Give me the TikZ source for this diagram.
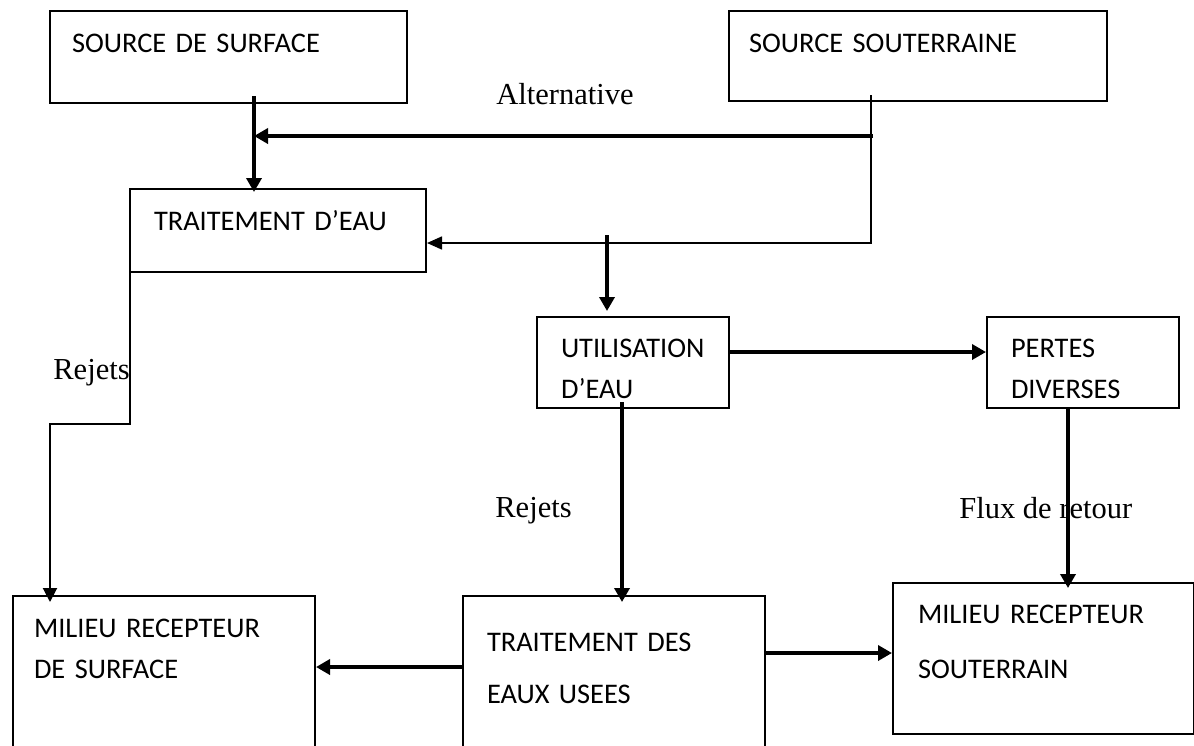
\documentclass[tikz,border=0pt]{standalone}
\usepackage{fontspec}
\setmainfont{Liberation Serif}
\newfontfamily\carlito{Carlito}
\usetikzlibrary{arrows.meta}
\hyphenpenalty=10000
\tikzset{
  box/.style={draw, line width=1pt, anchor=north west, align=left, inner ysep=0pt,
    font=\carlito\fontsize{14.2}{20.5}\selectfont},
  boxdim/.style n args={4}{text width=#1, inner xsep=#2, text height=#3, text depth=#4},
  flow/.style={line width=1.9pt, -{Triangle[length=7pt,width=7.5pt]}},
  feed/.style={line width=0.8pt, -{Triangle[length=7.5pt,width=6.5pt]}},
  drop/.style={line width=1pt, -{Triangle[length=7pt,width=7pt]}},
  tag/.style={anchor=base west, inner sep=0pt, font=\fontsize{15.25}{18}\selectfont},
}
\begin{document}
\begin{tikzpicture}[x=0.5pt,y=-0.5pt]
  \useasboundingbox (0,0) rectangle (1194,745);
  \clip (0,0) rectangle (1194,745);
  % boxes
  \node[box, boxdim={156.5pt}{11pt}{20.5pt}{25.5pt}] (ssurf) at (49,10) {SOURCE DE SURFACE};
  \node[box, boxdim={169pt}{10pt}{20.5pt}{24.5pt}] (ssout) at (728,10) {SOURCE SOUTERRAINE};
  \node[box, boxdim={124pt}{12pt}{20.5pt}{21pt}] (trait) at (129,188) {TRAITEMENT D’EAU};
  \node[box, boxdim={72pt}{12pt}{20pt}{25.5pt}] (util) at (536,316) {UTILISATION\\D’EAU};
  \node[box, boxdim={72pt}{12pt}{20pt}{25.5pt}] (pertes) at (986,316) {PERTES\\DIVERSES};
  \node[box, boxdim={130pt}{10.5pt}{20.5pt}{62pt}] (msurf) at (12,595) {MILIEU RECEPTEUR\\DE SURFACE};
  \node[box, boxdim={127pt}{12pt}{27.5pt}{62pt}, font=\carlito\fontsize{14.2}{26}\selectfont]
    (teu) at (462,595) {TRAITEMENT DES\\EAUX USEES};
  \node[box, boxdim={125.5pt}{12.5pt}{20pt}{55.5pt}, font=\carlito\fontsize{14.2}{27.5}\selectfont]
    (msout) at (892,582) {MILIEU RECEPTEUR\\SOUTERRAIN};
  % labels
  \node[tag] (alt) at (496,104) {Alternative};
  \node[tag] (rejA) at (53,379) {Rejets};
  \node[tag] (rejB) at (495,517) {Rejets};
  \node[tag] (flux) at (959,518) {Flux de retour};
  % junctions
  \coordinate (jSurf) at (254,136);
  \coordinate (jSout) at (871,243);
  \coordinate (jUse) at (607,235);
  \coordinate (jRej) at (622,500);
  \coordinate (jLoss) at (1068,500);
  \coordinate (jDrop) at (50,424);
  \coordinate (jLeft) at (400,667);
  \coordinate (jRight) at (800,653);
  % connectors
  \draw[flow] ([yshift=4pt]jSurf |- ssurf.south) -- ([yshift=-2pt]jSurf |- trait.north);
  \draw[flow] ([xshift=1pt]jSurf -| jSout) -- (jSurf);
  \draw[feed] ([yshift=3.5pt]jSout |- ssout.south) -- (jSout) -- (jSout -| trait.east);
  \draw[flow] (jUse) -- ([yshift=2.5pt]jUse |- util.north);
  \draw[flow] ([yshift=5.25pt]util.east) -- ([yshift=5.25pt]util.east -| pertes.west);
  \draw[flow] ([yshift=3.5pt]jRej |- util.south) -- ([yshift=-3.5pt]jRej |- teu.north);
  \draw[flow] (jLoss |- pertes.south) -- ([yshift=-3pt]jLoss |- msout.north);
  \draw[flow] (jLeft -| teu.west) -- (jLeft -| msurf.east);
  \draw[flow] (jRight -| teu.east) -- (jRight -| msout.west);
  \draw[drop] ([xshift=0.5pt]trait.south west) -- ([xshift=0.5pt]trait.south west |- jDrop)
    -- (jDrop) -- ([yshift=-3.5pt]jDrop |- msurf.north);
\end{tikzpicture}
\end{document}
